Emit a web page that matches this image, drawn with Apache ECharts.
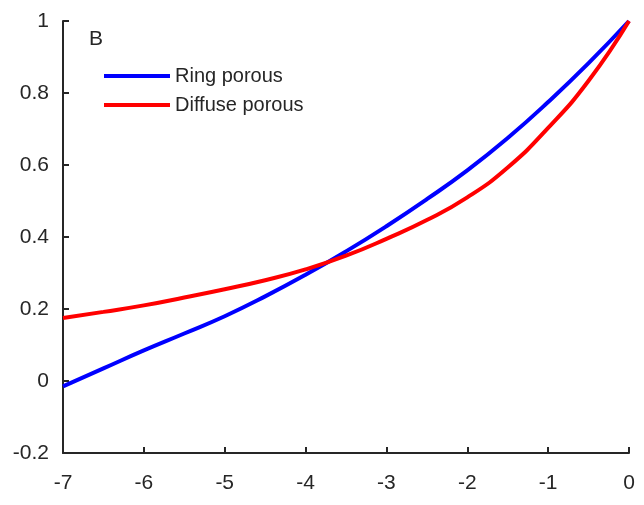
<!DOCTYPE html>
<html>
<head>
<meta charset="utf-8">
<script src="https://cdn.jsdelivr.net/npm/echarts@6/dist/echarts.min.js"></script>
<style>html,body{margin:0;padding:0;background:#fff}#c{width:644px;height:505px}</style>
</head>
<body>
<div id="c"></div>
<script>
var xValues = [-7, -6.5, -6, -5.5, -5, -4.5, -4, -3.5, -3, -2.5, -2, -1.5, -1, -0.5, 0];
var ringPorous = [-0.015, 0.035, 0.085, 0.132, 0.18, 0.235, 0.295, 0.36, 0.43, 0.505, 0.585, 0.675, 0.775, 0.883, 1.0];
var diffusePorous = [0.175, 0.192, 0.21, 0.232, 0.255, 0.28, 0.31, 0.348, 0.395, 0.447, 0.51, 0.593, 0.703, 0.834, 1.0];
var seriesNames = ['Ring porous', 'Diffuse porous'];
var panelLabel = 'B';

function pairs(ys) { return xValues.map(function (x, i) { return [x, ys[i]]; }); }

var chart = echarts.init(document.getElementById('c'));
var axisColor = '#262626';
var font = 'Liberation Sans, Arial, sans-serif';
chart.setOption({
  animation: false,
  backgroundColor: '#fff',
  grid: { left: 63, right: 15, top: 21, bottom: 52 },
  xAxis: {
    type: 'value', min: -7, max: 0, interval: 1,
    axisLine: { show: true, onZero: false, lineStyle: { color: axisColor, width: 2 } },
    axisTick: { show: true, inside: true, length: 6, lineStyle: { color: axisColor, width: 2 } },
    axisLabel: { color: axisColor, fontSize: 21, fontFamily: font, margin: 20 },
    splitLine: { show: false }
  },
  yAxis: {
    type: 'value', min: -0.2, max: 1, interval: 0.2,
    axisLine: { show: true, onZero: false, lineStyle: { color: axisColor, width: 2 } },
    axisTick: { show: true, inside: true, length: 6, lineStyle: { color: axisColor, width: 2 } },
    axisLabel: { color: axisColor, fontSize: 21, fontFamily: font, margin: 14,
      formatter: function (v) { return String(Math.round(v * 10) / 10); } },
    splitLine: { show: false }
  },
  legend: {
    orient: 'vertical', left: 99, top: 61,
    icon: 'rect', itemWidth: 66, itemHeight: 4, itemGap: 9,
    textStyle: { color: '#262626', fontSize: 20, fontFamily: font, padding: [0, 0, 0, 0] },
    data: seriesNames
  },
  graphic: [{ type: 'text', left: 89, top: 29, style: { text: panelLabel, fontSize: 21, fontFamily: font, fill: '#262626' } }],
  series: [
    { name: seriesNames[0], type: 'line', data: pairs(ringPorous), smooth: true, symbol: 'none',
      lineStyle: { color: '#0000ff', width: 4 }, itemStyle: { color: '#0000ff' } },
    { name: seriesNames[1], type: 'line', data: pairs(diffusePorous), smooth: true, symbol: 'none',
      lineStyle: { color: '#ff0000', width: 4 }, itemStyle: { color: '#ff0000' } }
  ]
});
</script>
</body>
</html>
